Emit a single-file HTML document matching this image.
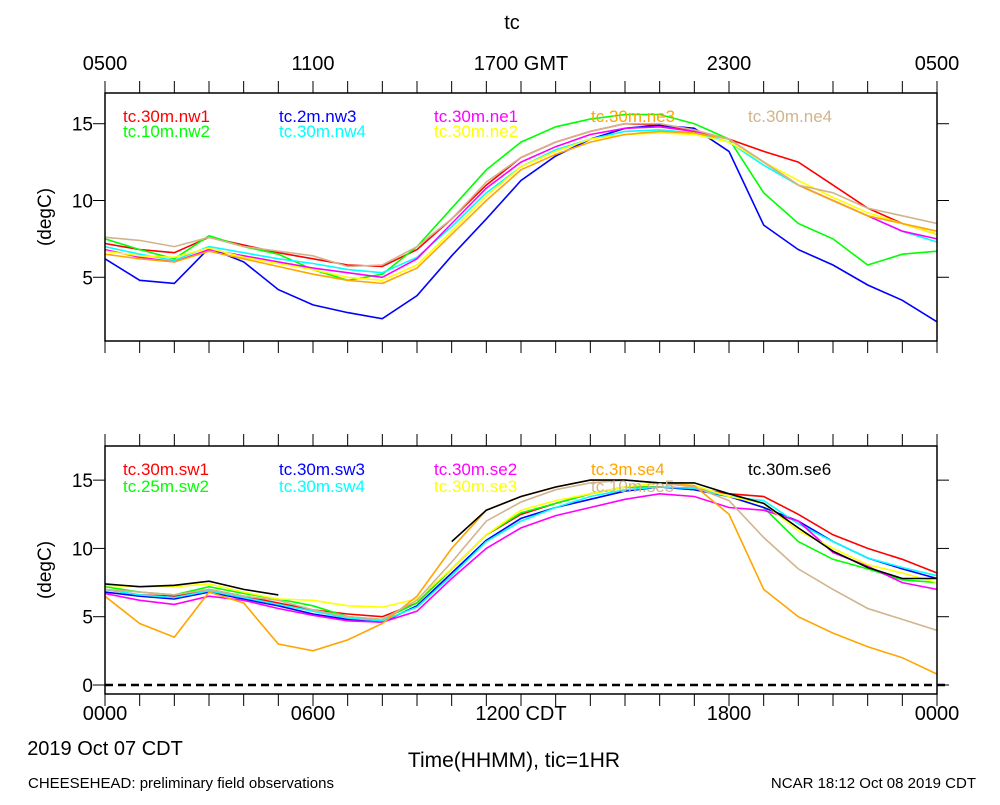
<!DOCTYPE html>
<html><head><meta charset="utf-8"><style>
body{margin:0;background:#fff}
svg text{font-family:"Liberation Sans",sans-serif}
</style></head><body>
<svg id="c" width="1000" height="800" xmlns="http://www.w3.org/2000/svg">
<rect width="1000" height="800" fill="#fff"/>
</svg>
<script>
const hours=[0,1,2,3,4,5,6,7,8,9,10,11,12,13,14,15,16,17,18,19,20,21,22,23,24];
const topNames=["tc.30m.nw1","tc.10m.nw2","tc.2m.nw3","tc.30m.nw4","tc.30m.ne1","tc.30m.ne2","tc.30m.ne3","tc.30m.ne4"];
const topColors=["#ff0000","#00ff00","#0000ff","#00ffff","#ff00ff","#ffff00","#ffa500","#d2b48c"];
const nw1=[7.2,6.8,6.6,7.6,7.1,6.6,6.2,5.8,5.7,6.8,8.8,11.0,12.8,13.8,14.5,15.0,14.9,14.5,14.0,13.2,12.5,11.0,9.5,8.5,7.8];
const nw2=[7.5,6.8,6.2,7.7,7.0,6.5,5.5,4.8,5.2,7.0,9.5,12.0,13.8,14.8,15.3,15.6,15.6,15.0,14.0,10.5,8.5,7.5,5.8,6.5,6.7];
const nw3=[6.2,4.8,4.6,6.9,6.0,4.2,3.2,2.7,2.3,3.8,6.4,8.8,11.3,12.9,14.0,14.7,14.9,14.7,13.2,8.4,6.8,5.8,4.5,3.5,2.1];
const nw4=[7.0,6.5,6.1,7.0,6.6,6.2,5.9,5.5,5.3,6.3,8.3,10.5,12.2,13.3,14.0,14.5,14.6,14.4,13.8,12.3,11.0,10.0,9.0,8.0,7.3];
const ne1=[6.8,6.3,6.0,6.8,6.4,6.0,5.6,5.3,5.0,6.2,8.5,10.8,12.5,13.5,14.3,14.7,14.8,14.5,14.0,12.5,11.0,10.0,9.0,8.0,7.5];
const ne2=[6.7,6.4,6.3,6.9,6.3,5.9,5.5,5.0,4.8,5.8,8.0,10.3,12.2,13.2,14.0,14.3,14.4,14.3,13.8,12.5,11.3,10.2,9.2,8.5,7.8];
const ne3=[6.5,6.2,6.0,6.7,6.2,5.7,5.2,4.8,4.6,5.6,7.8,10.0,12.0,13.0,13.8,14.3,14.5,14.4,14.0,12.5,11.0,10.0,9.0,8.5,8.0];
const ne4=[7.6,7.4,7.0,7.6,7.0,6.7,6.4,5.7,5.8,7.0,8.8,11.2,12.8,13.8,14.5,15.0,15.0,14.6,14.0,12.5,11.0,10.5,9.5,9.0,8.5];
const botNames=["tc.30m.sw1","tc.25m.sw2","tc.30m.sw3","tc.30m.sw4","tc.30m.se2","tc.30m.se3","tc.3m.se4","tc.10m.se5","tc.30m.se6"];
const botColors=["#ff0000","#00ff00","#0000ff","#00ffff","#ff00ff","#ffff00","#ffa500","#d2b48c","#000000"];
const sw1=[7.0,6.6,6.5,7.0,6.5,6.0,5.5,5.2,5.0,6.0,8.5,11.0,12.5,13.3,14.0,14.5,14.5,14.4,14.0,13.8,12.5,11.0,10.0,9.2,8.2];
const sw2=[7.2,6.8,6.6,7.2,6.7,6.3,5.8,5.0,4.8,6.0,8.5,11.0,12.6,13.3,14.0,14.5,14.5,14.3,13.8,13.0,10.5,9.2,8.5,7.7,7.5];
const sw3=[6.8,6.5,6.3,6.8,6.3,5.8,5.2,4.8,4.6,5.8,8.2,10.6,12.2,13.0,13.6,14.2,14.5,14.3,13.8,13.0,12.0,10.5,9.3,8.5,7.8];
const sw4=[7.0,6.6,6.4,6.9,6.4,5.9,5.4,4.9,4.7,5.7,8.0,10.5,12.0,13.0,13.8,14.3,14.5,14.4,13.8,13.5,11.8,10.5,9.3,8.6,8.0];
const se2=[6.7,6.2,5.9,6.5,6.2,5.6,5.1,4.7,4.6,5.4,7.8,10.0,11.5,12.4,13.0,13.6,14.0,13.8,13.0,12.8,12.0,9.7,8.7,7.5,7.0];
const se3=[7.3,7.2,7.2,7.4,6.8,6.3,6.2,5.8,5.7,6.3,8.5,11.0,12.8,13.5,14.0,14.5,14.8,14.6,13.8,13.3,11.3,10.0,8.8,8.2,7.5];
const se4=[6.5,4.5,3.5,6.8,6.0,3.0,2.5,3.3,4.5,6.5,10.0,12.8,13.8,14.5,15.0,15.0,14.8,14.6,12.5,7.0,5.0,3.8,2.8,2.0,0.8];
const se5=[7.0,6.8,6.6,7.0,6.5,6.2,5.5,5.0,4.8,6.2,9.0,12.0,13.4,14.3,14.8,15.0,14.8,14.5,13.5,10.8,8.5,7.0,5.6,4.8,4.0];
const se6=[7.4,7.2,7.3,7.6,7.0,6.6,null,null,null,null,10.5,12.8,13.8,14.5,15.0,15.0,14.8,14.8,14.0,13.3,11.5,9.8,8.6,7.8,7.8];
const topSeries=[nw1,nw2,nw3,nw4,ne1,ne2,ne3,ne4];
const botSeries=[sw1,sw2,sw3,sw4,se2,se3,se4,se5,se6];
const topTickLabels=["0500","1100","1700 GMT","2300","0500"];
const botTickLabels=["0000","0600","1200 CDT","1800","0000"];
const topYTicks=[5,10,15];
const botYTicks=[0,5,10,15];

const svg=document.getElementById('c');
const NS='http://www.w3.org/2000/svg';
function mk(tag,attrs,parent){const e=document.createElementNS(NS,tag);for(const k in attrs)e.setAttribute(k,attrs[k]);(parent||svg).appendChild(e);return e;}
const X0=105,X1=937;
function xs(h){return X0+(X1-X0)*h/24;}
function txt(s,x,y,size,anchor,fill,parent){const t=mk('text',{x:x,y:y,'font-size':size,'text-anchor':anchor,fill:fill},parent);t.textContent=s;return t;}

function panel(name,top,bot,ymin,ymax,yticks,series,colors,names,legendX,legendY,cols){
  const g=mk('g',{});
  
  
  const ys=v=>bot-(v-ymin)/(ymax-ymin)*(bot-top);
  series.forEach((arr,i)=>{
    let d='',pen=false;
    arr.forEach((v,j)=>{if(v===null){pen=false;return;}d+=(pen?'L':'M')+xs(hours[j]).toFixed(1)+' '+ys(v).toFixed(1);pen=true;});
    const p=mk('path',{d:d,fill:'none',stroke:colors[i],'stroke-width':1.6},g);
    
    
  });
  const f=mk('rect',{x:X0,y:top,width:X1-X0,height:bot-top,fill:'none',stroke:'#000','stroke-width':1.5},g);
  
  
  for(let h=0;h<=24;h++){
    mk('line',{x1:xs(h),x2:xs(h),y1:top,y2:top-12,stroke:'#000','stroke-width':1},g);
    mk('line',{x1:xs(h),x2:xs(h),y1:bot,y2:bot+12,stroke:'#000','stroke-width':1},g);
  }
  yticks.forEach(v=>{
    const y=ys(v);
    mk('line',{x1:X0,x2:X0-12,y1:y,y2:y,stroke:'#000'},g);
    mk('line',{x1:X1,x2:X1+12,y1:y,y2:y,stroke:'#000'},g);
    const t=txt(String(v),93,y+7,19,'end','#000',g);
    
    
  });
  const yl=txt('(degC)',0,0,19,'middle','#000',g);
  yl.setAttribute('transform','translate(51,'+((top+bot)/2)+') rotate(-90)');
  
  
  names.forEach((n,i)=>{
    const c=cols[i];
    const t=txt(n,legendX[c[0]],legendY[c[1]],17,'start',colors[i],g);
    
    
  });
  return ys;
}
const LX=[123,279,434,591,748];
panel('top-panel',93,341,0.85,17,topYTicks,topSeries,topColors,topNames,LX,[122,137],
  [[0,0],[0,1],[1,0],[1,1],[2,0],[2,1],[3,0],[4,0]]);
const ysb=panel('bottom-panel',446,694,-0.66,17.5,botYTicks,botSeries,botColors,botNames,LX,[475,492],
  [[0,0],[0,1],[1,0],[1,1],[2,0],[2,1],[3,0],[3,1],[4,0]]);
const z=mk('line',{x1:X0,x2:948,y1:ysb(0),y2:ysb(0),stroke:'#000','stroke-width':2.5,'stroke-dasharray':'8,5'});



topTickLabels.forEach((s,i)=>{const t=txt(s,xs(i*6),70,20,'middle','#000');

});
botTickLabels.forEach((s,i)=>{const t=txt(s,xs(i*6),720,20,'middle','#000');

});
let t;
t=txt('tc',512,29,20,'middle','#000');


t=txt('2019 Oct 07 CDT',105,755,20,'middle','#000');


t=txt('Time(HHMM), tic=1HR',514,767,21,'middle','#000');


t=txt('CHEESEHEAD: preliminary field observations',28,788,15,'start','#000');


t=txt('NCAR 18:12 Oct 08 2019 CDT',976,788,15,'end','#000');


</script>
</body></html>
